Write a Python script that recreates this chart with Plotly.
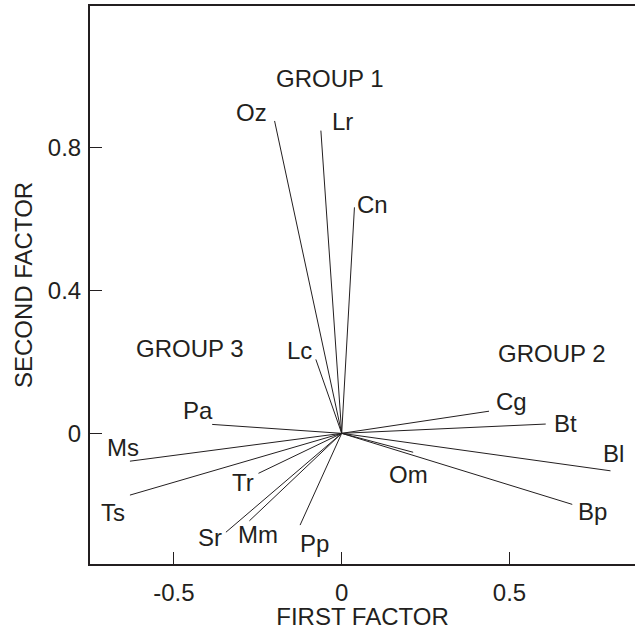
import plotly.graph_objects as go

# Species loadings (first factor, second factor)
species = ["Oz", "Lr", "Cn", "Lc", "Pa", "Ms", "Ts", "Tr",
           "Sr", "Mm", "Pp", "Cg", "Bt", "Bl", "Bp", "Om"]
first_factor = [-0.200, -0.062, 0.038, -0.077, -0.386, -0.631, -0.631, -0.248,
                -0.345, -0.275, -0.124, 0.439, 0.608, 0.801, 0.687, 0.213]
second_factor = [0.875, 0.848, 0.633, 0.207, 0.025, -0.078, -0.173, -0.112,
                 -0.277, -0.245, -0.257, 0.062, 0.026, -0.105, -0.199, -0.053]

group_names = ["GROUP 1", "GROUP 2", "GROUP 3"]

x_ticks = [-0.5, 0, 0.5]
x_ticktext = ["-0.5", "0", "0.5"]
y_ticks = [0, 0.4, 0.8]
y_ticktext = ["0", "0.4", "0.8"]

# label offsets in pixels (dx right, dy down) relative to vector tip -- styling
label_offsets = {
    "Oz": (-23, -8), "Lr": (22, -9), "Cn": (18, -3), "Lc": (-16, -9),
    "Pa": (-14, -14), "Ms": (-7, -14), "Ts": (-17, 17), "Tr": (-15, 9),
    "Sr": (-16, 5), "Mm": (9, 14), "Pp": (14, 18), "Cg": (22, -10),
    "Bt": (20, -1), "Bl": (3, -17), "Bp": (20, 7), "Om": (-5, 22),
}
group_pos = {"GROUP 1": (-0.035, 0.995), "GROUP 2": (0.626, 0.224), "GROUP 3": (-0.452, 0.238)}

INK = "#231f20"
FONT = dict(family="Liberation Sans, Arial, sans-serif", size=24, color=INK)

fig = go.Figure()
xs, ys = [], []
for fx, fy in zip(first_factor, second_factor):
    xs += [0, fx, None]
    ys += [0, fy, None]
fig.add_trace(go.Scatter(x=xs, y=ys, mode="lines",
                         line=dict(color=INK, width=1), hoverinfo="skip",
                         showlegend=False))

annotations = []
for name, fx, fy in zip(species, first_factor, second_factor):
    dx, dy = label_offsets[name]
    annotations.append(dict(x=fx, y=fy, text=name, showarrow=False,
                            xshift=dx, yshift=-dy, font=FONT,
                            xanchor="center", yanchor="middle"))
for g in group_names:
    gx, gy = group_pos[g]
    annotations.append(dict(x=gx, y=gy, text=g, showarrow=False, font=FONT,
                            xanchor="center", yanchor="middle"))

fig.update_layout(
    width=635, height=630,
    margin=dict(l=90, r=0, t=6, b=66),
    paper_bgcolor="white", plot_bgcolor="white",
    font=FONT,
    annotations=annotations,
    xaxis=dict(range=[-0.75, 0.874], tickvals=x_ticks, ticktext=x_ticktext,
               showgrid=False, zeroline=False, showline=True, linecolor=INK,
               linewidth=2, mirror=True, ticks="inside", ticklen=12,
               tickwidth=1, tickcolor=INK, ticklabelstandoff=6,
               title=dict(text="FIRST FACTOR", font=FONT, standoff=7)),
    yaxis=dict(range=[-0.366, 1.197], tickvals=y_ticks, ticktext=y_ticktext,
               showgrid=False, zeroline=False, showline=True, linecolor=INK,
               linewidth=2, mirror=False, ticks="inside", ticklen=12,
               tickwidth=1, tickcolor=INK, ticklabelstandoff=2,
               title=dict(text="SECOND FACTOR", font=FONT, standoff=8)),
)

fig.write_html("out.html")
